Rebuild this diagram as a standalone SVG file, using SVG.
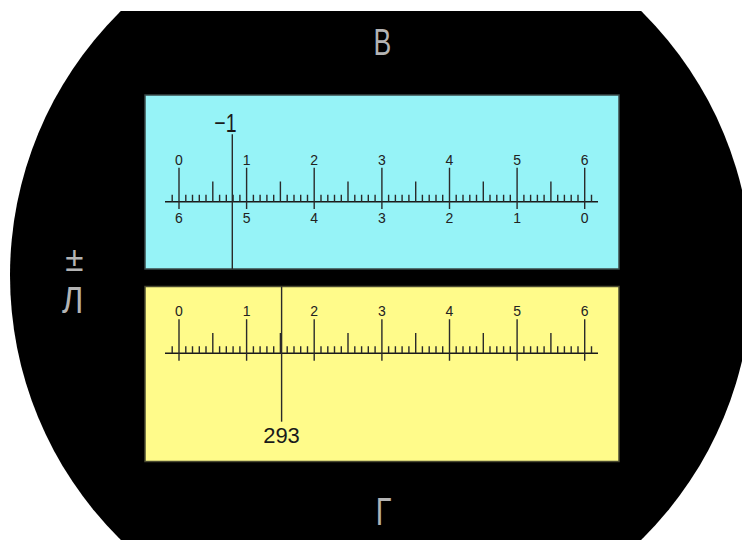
<svg xmlns="http://www.w3.org/2000/svg" width="742" height="540" viewBox="0 0 742 540">
<style>
.tick{stroke:#2a2a2a;stroke-width:1.4;fill:none}
.base{stroke:#1a1a1a;stroke-width:1.6;fill:none}
.idx{stroke:#2a2a2a;stroke-width:1.4;fill:none}
.num{font-family:"Liberation Sans",Arial,sans-serif;font-size:14px;fill:#222;text-anchor:middle}
.big{font-family:"Liberation Sans",Arial,sans-serif;fill:#1a1a1a}
.let{font-family:"Liberation Sans",Arial,sans-serif;font-size:37px;fill:#b4b4b4;text-anchor:middle}
</style>
<defs>
<clipPath id="clip"><rect x="0" y="11" width="742" height="529"/></clipPath>
<g id="scale">
<path class="base" d="M165 0H598"/>
<path class="tick" d="M179 -34V7.4M246.6 -34V7.4M314.2 -34V7.4M381.9 -34V7.4M449.5 -34V7.4M517.1 -34V7.4M584.7 -34V7.4"/>
<path class="tick" d="M212.8 -20.3V0M280.4 -20.3V0M348 -20.3V0M415.7 -20.3V0M483.3 -20.3V0M550.9 -20.3V0"/>
<path class="tick" d="M172.2 -7V0M185.8 -7V0M192.5 -7V0M199.3 -7V0M206 -7V0M219.6 -7V0M226.3 -7V0M233.1 -7V0M239.9 -7V0M253.4 -7V0M260.1 -7V0M266.9 -7V0M273.7 -7V0M287.2 -7V0M294 -7V0M300.7 -7V0M307.5 -7V0M321 -7V0M327.8 -7V0M334.5 -7V0M341.3 -7V0M354.8 -7V0M361.6 -7V0M368.3 -7V0M375.1 -7V0M388.6 -7V0M395.4 -7V0M402.1 -7V0M408.9 -7V0M422.4 -7V0M429.2 -7V0M436 -7V0M442.7 -7V0M456.2 -7V0M463 -7V0M469.8 -7V0M476.5 -7V0M490 -7V0M496.8 -7V0M503.6 -7V0M510.3 -7V0M523.9 -7V0M530.6 -7V0M537.4 -7V0M544.1 -7V0M557.7 -7V0M564.4 -7V0M571.2 -7V0M578 -7V0M591.5 -7V0"/>
</g>
</defs>
<rect width="742" height="540" fill="#ffffff"/>
<g id="eyepiece" clip-path="url(#clip)">
<circle cx="381" cy="275.5" r="371" fill="#000000"/>
</g>
<g id="letters">
<text class="let" transform="translate(382.5,55) scale(0.72,1)">В</text>
<text class="let" transform="translate(74.3,270.7) scale(0.95,1)" style="font-size:35px">±</text>
<text class="let" transform="translate(72.7,313.3) scale(0.88,1)">Л</text>
<text class="let" transform="translate(383.5,525) scale(0.74,1)" style="font-size:39px">Г</text>
</g>
<g id="panel-top">
<rect x="145" y="95" width="474" height="174" fill="#96f3f7" stroke="#3a4a4a" stroke-width="1.5"/>
<use href="#scale" transform="translate(0,201.7)"/>
<g class="num">
<text x="179" y="165">0</text><text x="246.6" y="165">1</text><text x="314.2" y="165">2</text><text x="381.9" y="165">3</text><text x="449.5" y="165">4</text><text x="517.1" y="165">5</text><text x="584.7" y="165">6</text>
<text x="179" y="223.3">6</text><text x="246.6" y="223.3">5</text><text x="314.2" y="223.3">4</text><text x="381.9" y="223.3">3</text><text x="449.5" y="223.3">2</text><text x="517.1" y="223.3">1</text><text x="584.7" y="223.3">0</text>
</g>
<path class="idx" d="M232.3 134.3V269"/>
<text class="big" transform="translate(236.5,131.7) scale(0.75,1)" style="font-size:26px;text-anchor:end">−1</text>
</g>
<g id="panel-bottom">
<rect x="145" y="286.5" width="474" height="175" fill="#fffb8a" stroke="#4a4a30" stroke-width="1.5"/>
<use href="#scale" transform="translate(0,353.3)"/>
<g class="num">
<text x="179" y="316">0</text><text x="246.6" y="316">1</text><text x="314.2" y="316">2</text><text x="381.9" y="316">3</text><text x="449.5" y="316">4</text><text x="517.1" y="316">5</text><text x="584.7" y="316">6</text>
</g>
<path class="idx" d="M281.6 286.5V421.7"/>
<text class="big" x="281.5" y="442.7" style="font-size:22px;text-anchor:middle">293</text>
</g>
</svg>
